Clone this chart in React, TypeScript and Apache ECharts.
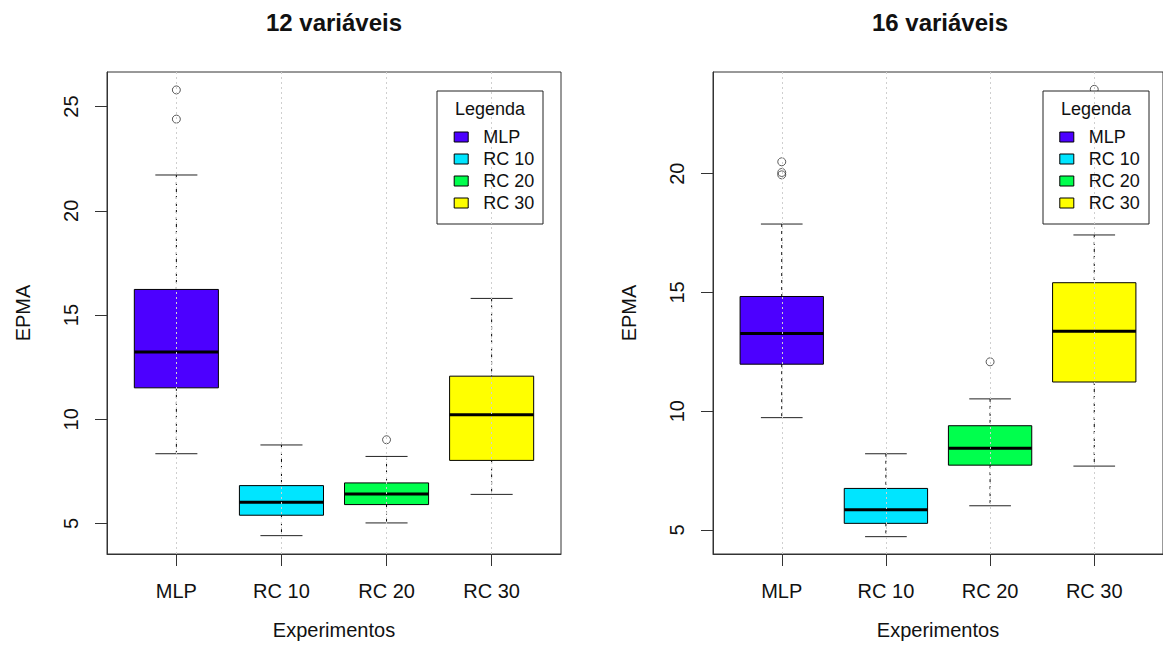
import React, { useEffect, useRef } from "react";
import * as echarts from "echarts";

const categories = ["MLP", "RC 10", "RC 20", "RC 30"];
const boxColors = ["#4C00FF", "#00E5FF", "#00FF4D", "#FFFF00"];
const catPositions = [1, 2, 3, 4];

// 12 variáveis
const low12 = [8.35, 4.42, 5.03, 6.4];
const q1_12 = [11.51, 5.4, 5.91, 8.03];
const med12 = [13.23, 6.02, 6.42, 10.22];
const q3_12 = [16.23, 6.82, 6.95, 12.07];
const high12 = [21.72, 8.77, 8.22, 15.8];
const outliers12 = [
  [1, 25.8],
  [1, 24.4],
  [3, 9.02],
];
const yTicks12 = [5, 10, 15, 20, 25];
const yRange12 = [3.54, 26.66];

// 16 variáveis
const low16 = [9.73, 4.72, 6.02, 7.69];
const q1_16 = [11.98, 5.28, 7.73, 11.23];
const med16 = [13.27, 5.85, 8.44, 13.37];
const q3_16 = [14.83, 6.75, 9.39, 15.41];
const high16 = [17.88, 8.21, 10.52, 17.42];
const outliers16 = [
  [1, 20.5],
  [1, 20.05],
  [1, 19.95],
  [3, 12.08],
  [4, 23.55],
];
const yTicks16 = [5, 10, 15, 20];
const yRange16 = [3.99, 24.28];

const xRange = [0.34, 4.66];

const FONT = '"Liberation Sans", Arial, sans-serif';
const TEXT = "#111";
const AXIS = "#333";

function renderBox(params: any, api: any) {
  const x = api.value(0);
  const pLo = api.coord([x, api.value(1)]);
  const pQ1 = api.coord([x, api.value(2)]);
  const pMd = api.coord([x, api.value(3)]);
  const pQ3 = api.coord([x, api.value(4)]);
  const pHi = api.coord([x, api.value(5)]);
  const bw = api.size([0.8, 0])[0];
  const cw = bw / 2;
  const cx = pMd[0];
  const fill = api.visual("color");
  const dash = { stroke: "#000", lineWidth: 1, lineDash: [3, 4] };
  const cap = { stroke: "#222", lineWidth: 1 };
  return {
    type: "group",
    children: [
      { type: "line", shape: { x1: cx, y1: pHi[1], x2: cx, y2: pQ3[1] }, style: dash },
      { type: "line", shape: { x1: cx, y1: pQ1[1], x2: cx, y2: pLo[1] }, style: dash },
      { type: "line", shape: { x1: cx - cw / 2, y1: pHi[1], x2: cx + cw / 2, y2: pHi[1] }, style: cap },
      { type: "line", shape: { x1: cx - cw / 2, y1: pLo[1], x2: cx + cw / 2, y2: pLo[1] }, style: cap },
      {
        type: "rect",
        shape: { x: cx - bw / 2, y: pQ3[1], width: bw, height: pQ1[1] - pQ3[1] },
        style: { fill, stroke: "#000", lineWidth: 1 },
      },
      {
        type: "line",
        shape: { x1: cx - bw / 2, y1: pMd[1], x2: cx + bw / 2, y2: pMd[1] },
        style: { stroke: "#000", lineWidth: 3 },
      },
    ],
  };
}

function buildPanel(
  gridIndex: number,
  low: number[],
  q1: number[],
  med: number[],
  q3: number[],
  high: number[],
  outliers: number[][]
) {
  const series: any[] = categories.map((name, i) => ({
    type: "custom",
    name,
    xAxisIndex: gridIndex,
    yAxisIndex: gridIndex,
    itemStyle: { color: boxColors[i] },
    encode: { x: 0, y: [1, 2, 3, 4, 5] },
    data: [[catPositions[i], low[i], q1[i], med[i], q3[i], high[i]]],
    renderItem: renderBox,
    z: 2,
    silent: true,
  }));
  series.push({
    type: "scatter",
    name: "outliers" + gridIndex,
    xAxisIndex: gridIndex,
    yAxisIndex: gridIndex,
    data: outliers,
    symbol: "circle",
    symbolSize: 8,
    itemStyle: { color: "rgba(255,255,255,0)", borderColor: "#333", borderWidth: 1 },
    z: 3,
    silent: true,
  });
  series.push({
    type: "scatter",
    name: "grid" + gridIndex,
    xAxisIndex: gridIndex,
    yAxisIndex: gridIndex,
    data: [],
    z: 10,
    silent: true,
    markLine: {
      silent: true,
      symbol: "none",
      label: { show: false },
      lineStyle: { color: "#cfcfcf", width: 1, type: [2, 3] },
      data: catPositions.map((p) => ({ xAxis: p })),
    },
  });
  return series;
}

function xAxisFor(gridIndex: number) {
  return {
    type: "value",
    gridIndex,
    min: xRange[0],
    max: xRange[1],
    axisLine: { show: true, lineStyle: { color: AXIS, width: 1 } },
    axisTick: { show: true, length: 12, customValues: catPositions, lineStyle: { color: AXIS } },
    axisLabel: {
      customValues: catPositions,
      formatter: (v: number) => categories[Math.round(v) - 1] ?? "",
      fontSize: 20,
      fontFamily: FONT,
      color: TEXT,
      margin: 27,
    },
    splitLine: { show: false },
    name: "Experimentos",
    nameLocation: "middle",
    nameGap: 66,
    nameTextStyle: { fontSize: 20, fontFamily: FONT, color: TEXT },
  };
}

function yAxisFor(gridIndex: number, range: number[], ticks: number[]) {
  return {
    type: "value",
    gridIndex,
    min: range[0],
    max: range[1],
    axisLine: { show: true, lineStyle: { color: AXIS, width: 1 } },
    axisTick: { show: true, length: 12, customValues: ticks, lineStyle: { color: AXIS } },
    axisLabel: {
      customValues: ticks,
      rotate: 90,
      fontSize: 20,
      fontFamily: FONT,
      color: TEXT,
      margin: 26,
    },
    splitLine: { show: false },
    name: "EPMA",
    nameLocation: "middle",
    nameGap: 74,
    nameRotate: 90,
    nameTextStyle: { fontSize: 20, fontFamily: FONT, color: TEXT },
  };
}

function legendFor(left: number) {
  return {
    orient: "vertical",
    left,
    top: 128,
    itemWidth: 14,
    itemHeight: 10,
    itemGap: 4,
    icon: "rect",
    padding: 0,
    selectedMode: false,
    z: 6,
    itemStyle: { borderColor: "#000", borderWidth: 1 },
    textStyle: { fontSize: 18, fontFamily: FONT, color: TEXT, padding: [0, 0, 0, 10] },
    data: categories,
  };
}

export default function App() {
  const ref = useRef<HTMLDivElement>(null);
  useEffect(() => {
    if (!ref.current) return;
    const chart = echarts.init(ref.current, undefined, { renderer: "svg" });
    const option: any = {
      animation: false,
      backgroundColor: "#fff",
      grid: [
        { left: 107, top: 72, width: 454, height: 482, show: true, borderColor: AXIS, borderWidth: 1 },
        { left: 713, top: 72, width: 454, height: 482, show: true, borderColor: AXIS, borderWidth: 1 },
      ],
      xAxis: [xAxisFor(0), xAxisFor(1)],
      yAxis: [yAxisFor(0, yRange12, yTicks12), yAxisFor(1, yRange16, yTicks16)],
      legend: [legendFor(453.7), legendFor(1059.3)],
      graphic: [
        {
          type: "text",
          x: 334,
          y: 22,
          z: 10,
          style: { text: "12 variáveis", font: `bold 24px ${FONT}`, fill: TEXT, align: "center", verticalAlign: "middle" },
        },
        {
          type: "text",
          x: 940,
          y: 22,
          z: 10,
          style: { text: "16 variáveis", font: `bold 24px ${FONT}`, fill: TEXT, align: "center", verticalAlign: "middle" },
        },
        {
          type: "rect",
          shape: { x: 437, y: 91, width: 106, height: 133 },
          style: { fill: "#fff", stroke: "#222", lineWidth: 1 },
          z: 5,
        },
        {
          type: "rect",
          shape: { x: 1043, y: 91, width: 106, height: 133 },
          style: { fill: "#fff", stroke: "#222", lineWidth: 1 },
          z: 5,
        },
        {
          type: "text",
          x: 490,
          y: 109,
          z: 6,
          style: { text: "Legenda", font: `18px ${FONT}`, fill: TEXT, align: "center", verticalAlign: "middle" },
        },
        {
          type: "text",
          x: 1096,
          y: 109,
          z: 6,
          style: { text: "Legenda", font: `18px ${FONT}`, fill: TEXT, align: "center", verticalAlign: "middle" },
        },
      ],
      series: [
        ...buildPanel(0, low12, q1_12, med12, q3_12, high12, outliers12),
        ...buildPanel(1, low16, q1_16, med16, q3_16, high16, outliers16),
      ],
    };
    chart.setOption(option);
    return () => chart.dispose();
  }, []);
  return (
    <div
      ref={ref}
      style={{ position: "absolute", left: 0, top: 0, width: 1163, height: 657 }}
    />
  );
}
